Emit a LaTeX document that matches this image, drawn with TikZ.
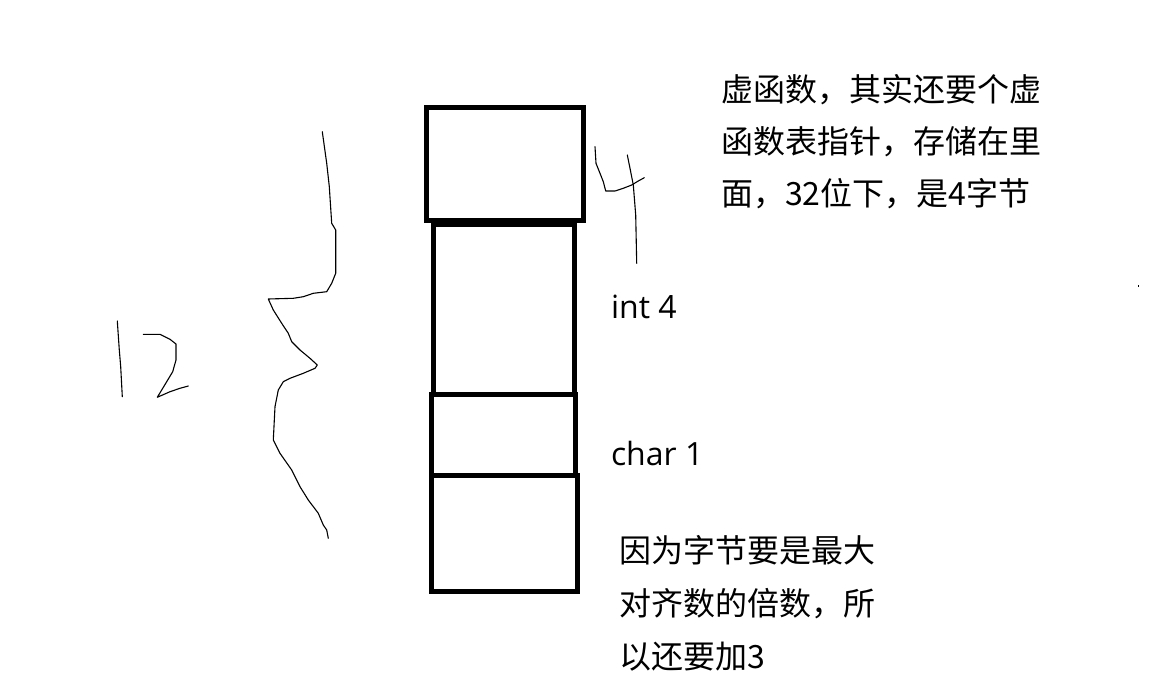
\documentclass[tikz,border=0pt]{standalone}
\usepackage{fontspec}
\newfontfamily\cjk{Noto Sans CJK SC}
\newfontfamily\latinlabel{Open Sans}
\begin{document}
\begin{tikzpicture}[x=1pt,y=-1pt,
  cell/.style={draw=black,line width=5pt,inner sep=0pt,outer sep=0pt,fill=none},
  hand/.style={draw=black,line width=1.1pt,line join=round,line cap=round},
  note/.style={font=\cjk\fontsize{32}{40}\selectfont,anchor=base west,inner sep=0pt,outer sep=0pt},
  lab/.style={font=\latinlabel\fontsize{32}{40}\selectfont,anchor=base west,inner sep=0pt,outer sep=0pt}]
\useasboundingbox[fill=white] (0,0) rectangle (1175,687);

% memory cells
\node[cell,minimum width=157.3pt,minimum height=113pt] (vptr) at (504.65,164) {};
\node[cell,minimum width=140.5pt,minimum height=169pt] (intc) at (503.75,309.5) {};
\node[cell,minimum width=143.7pt,minimum height=80.5pt] (charc) at (503.65,434.75) {};
\node[cell,minimum width=146.5pt,minimum height=116.5pt] (padc) at (504.25,533.25) {};

% labels
\node[lab] (intlab) at (611,318) {int 4};
\node[lab] (charlab) at (611,465) {char 1};

\node[note] (n1a) at (721,102) {虚函数，其实还要个虚};
\node[note] (n1b) at (721,154) {函数表指针，存储在里};
\node[note] (n1c) at (721,206) {面，32位下，是4字节};

\node[note] (n2a) at (619,562) {因为字节要是最大};
\node[note] (n2b) at (619,615) {对齐数的倍数，所};
\node[note] (n2c) at (619,668) {以还要加3};

% handwritten brace
\draw[hand] (322.3,131.7) -- (326.7,163.3) -- (329.3,186.7) -- (331.7,223.3) -- (335.7,230)
  -- (335.7,273.3) -- (331.7,283.3) -- (326.7,291.7) -- (313.3,293.3) -- (303.3,296.7)
  -- (293.3,298.3) -- (268.3,299) -- (273.3,310) -- (281.7,323.3) -- (288.3,333.3)
  -- (291.7,341.7) -- (300,350) -- (310,358.3) -- (317.3,365) -- (315,368.3)
  -- (303.3,373.3) -- (290,378.3) -- (283.3,381.7) -- (278.3,390) -- (275,406.7)
  -- (273.3,440) -- (280,453.3) -- (291.7,470) -- (300,486.7) -- (308.3,500)
  -- (318.3,513.3) -- (323.3,525) -- (326.7,530) -- (328.3,538.3);

% handwritten 12
\draw[hand] (117.3,321) -- (119.3,350) -- (120.7,366.7) -- (122.3,396.7);
\draw[hand] (143.3,334.3) -- (160,334.3) -- (170,339.3) -- (176,344) -- (176,360)
  -- (172.7,371.7) -- (166.7,381.7) -- (157.3,397.3) -- (170,391.7) -- (180,388.3) -- (188.3,386);

% handwritten 4
\draw[hand] (595,146.7) -- (596,163.3) -- (600,173.3) -- (603.3,181.7) -- (605.7,191)
  -- (615,191) -- (623.3,188.3) -- (631.7,185) -- (638.3,181) -- (644.3,177.7);
\draw[hand] (627.3,155) -- (630,168.3) -- (633.3,185) -- (635.7,215) -- (636.7,263.3);

% stray dot
\fill[black] (1137.6,285.4) rectangle (1138.8,286.6);
\end{tikzpicture}
\end{document}
